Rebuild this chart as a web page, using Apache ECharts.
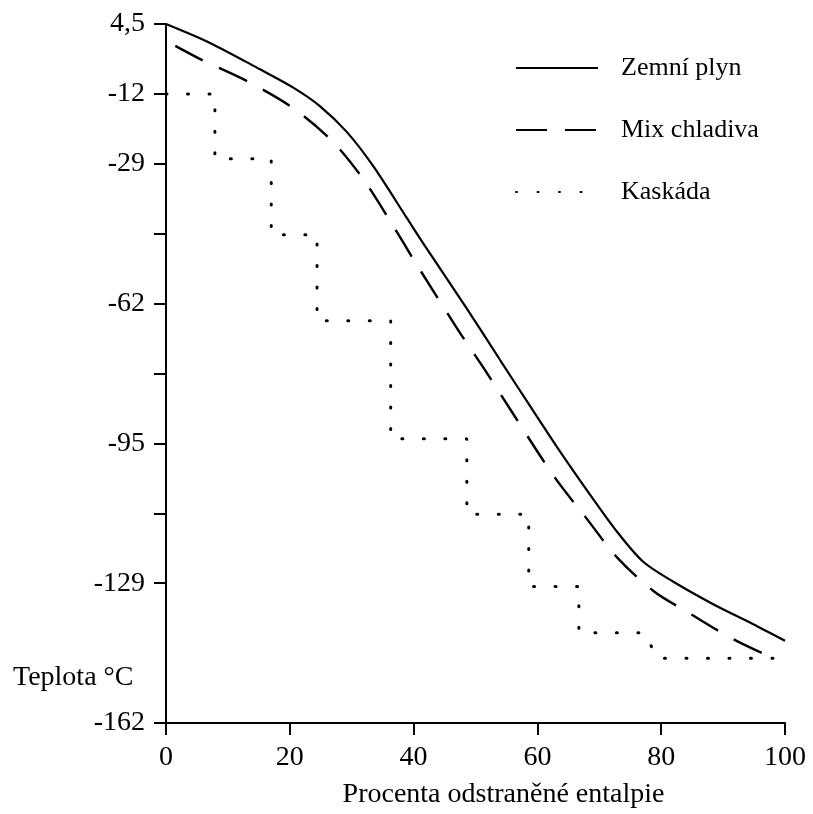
<!DOCTYPE html>
<html>
<head>
<meta charset="utf-8">
<script src="https://cdn.jsdelivr.net/npm/echarts@6/dist/echarts.min.js"></script>
<style>html,body{margin:0;padding:0;background:#fff}#c{width:813px;height:814px}</style>
</head>
<body>
<div id="c"></div>
<script>
// ---- data ----
const seriesNames = ['Zemní plyn', 'Mix chladiva', 'Kaskáda'];
const gasX = [0, 7.1, 15.2, 20.5, 24.9, 29.2, 33.4, 38.9, 41.8, 48.6, 54.0, 59.3, 63.5, 68.5, 72.9, 77.1, 81.9, 88.4, 94.8, 100];
const gasY = [4.5, 0.0, -6.3, -10.6, -15.1, -21.2, -29.2, -41.7, -48.3, -63.3, -75.6, -87.6, -97.0, -107.6, -116.5, -123.6, -128.3, -133.7, -138.4, -142.4];
const mixX = [1.5, 6.0, 13.2, 20.5, 26.8, 31.8, 36.2, 40.5, 47.2, 51.7, 56.1, 62.8, 67.9, 72.9, 78.8, 84.5, 91.6, 98.9];
const mixY = [-0.7, -4.2, -9.2, -15.5, -23.3, -32.3, -42.4, -52.8, -68.4, -78.3, -88.4, -103.5, -113.2, -122.6, -130.6, -135.8, -142, -147.1];
const casX = [0, 7.9, 7.9, 17.0, 17.0, 24.4, 24.4, 36.3, 36.3, 48.6, 48.6, 58.6, 58.6, 66.7, 66.7, 77.4, 79.3, 98.6];
const casY = [-12.2, -12.2, -27.6, -27.6, -45.7, -45.7, -66.2, -66.2, -94.3, -94.3, -112.3, -112.3, -129.5, -129.5, -140.5, -140.5, -146.6, -146.6];
const yTickValues = [4.5, -12.15, -28.8, -45.45, -62.1, -78.75, -95.4, -112.05, -128.7, -162];
const yLabelValues = [4.5, -12.15, -28.8, -62.1, -95.4, -128.7, -162];
const yLabelTexts = ['4,5', '-12', '-29', '-62', '-95', '-129', '-162'];
const xTicks = [0, 20, 40, 60, 80, 100];
const xName = 'Procenta odstraněné entalpie';
const yName = 'Teplota °C';

function pairs(xs, ys) { return xs.map((x, i) => [x, ys[i]]); }

const FONT = '"Liberation Serif", "Times New Roman", serif';
const chart = echarts.init(document.getElementById('c'), null, {renderer: 'canvas'});
chart.setOption({
  animation: false,
  backgroundColor: '#fff',
  grid: {left: 166, right: 28, top: 24, bottom: 84, containLabel: false},
  legend: {
    orient: 'vertical', left: 515, top: 55, padding: 0,
    itemWidth: 82, itemHeight: 14, itemGap: 36,
    itemStyle: {opacity: 0},
    textStyle: {fontFamily: FONT, fontSize: 26, color: '#000', lineHeight: 26, padding: [0, 0, 0, 18]},
    data: seriesNames
  },
  xAxis: {
    type: 'value', min: 0, max: 100, interval: 20,
    name: xName, nameLocation: 'middle', nameGap: 58,
    nameTextStyle: {fontFamily: FONT, fontSize: 28, color: '#000', padding: [0, 0, 0, 56]},
    axisLine: {show: true, onZero: false, lineStyle: {color: '#000', width: 2}},
    axisTick: {show: true, length: 12, lineStyle: {color: '#000', width: 2}},
    axisLabel: {fontFamily: FONT, fontSize: 28, color: '#000', margin: 21,
      formatter: v => xTicks.indexOf(v) >= 0 ? String(v) : ''},
    splitLine: {show: false}
  },
  yAxis: {
    type: 'value', min: -162, max: 4.5,
    axisLine: {show: true, onZero: false, lineStyle: {color: '#000', width: 2}},
    axisTick: {show: true, length: 12, customValues: yTickValues, lineStyle: {color: '#000', width: 2}},
    axisLabel: {fontFamily: FONT, fontSize: 28, color: '#000', margin: 21, customValues: yLabelValues,
      formatter: v => {
        for (let i = 0; i < yLabelValues.length; i++) if (Math.abs(yLabelValues[i] - v) < 0.01) return yLabelTexts[i];
        return '';
      }},
    splitLine: {show: false}
  },
  graphic: [{
    type: 'text', left: 13, top: 664,
    style: {text: yName, font: '28px ' + FONT, fill: '#000'}
  }],
  series: [
    {name: seriesNames[0], type: 'line', data: pairs(gasX, gasY), smooth: 0.3, symbol: 'none',
     lineStyle: {color: '#000', width: 2.2}, itemStyle: {color: '#000'}},
    {name: seriesNames[1], type: 'line', data: pairs(mixX, mixY), smooth: 0.3, symbol: 'none',
     lineStyle: {color: '#000', width: 2.4, type: [31, 18]}, itemStyle: {color: '#000'}},
    {name: seriesNames[2], type: 'line', data: pairs(casX, casY), smooth: false, symbol: 'none',
     lineStyle: {color: '#000', width: 3, type: [1, 20.5], cap: 'round'}, itemStyle: {color: '#000'}}
  ]
});
</script>
</body>
</html>
